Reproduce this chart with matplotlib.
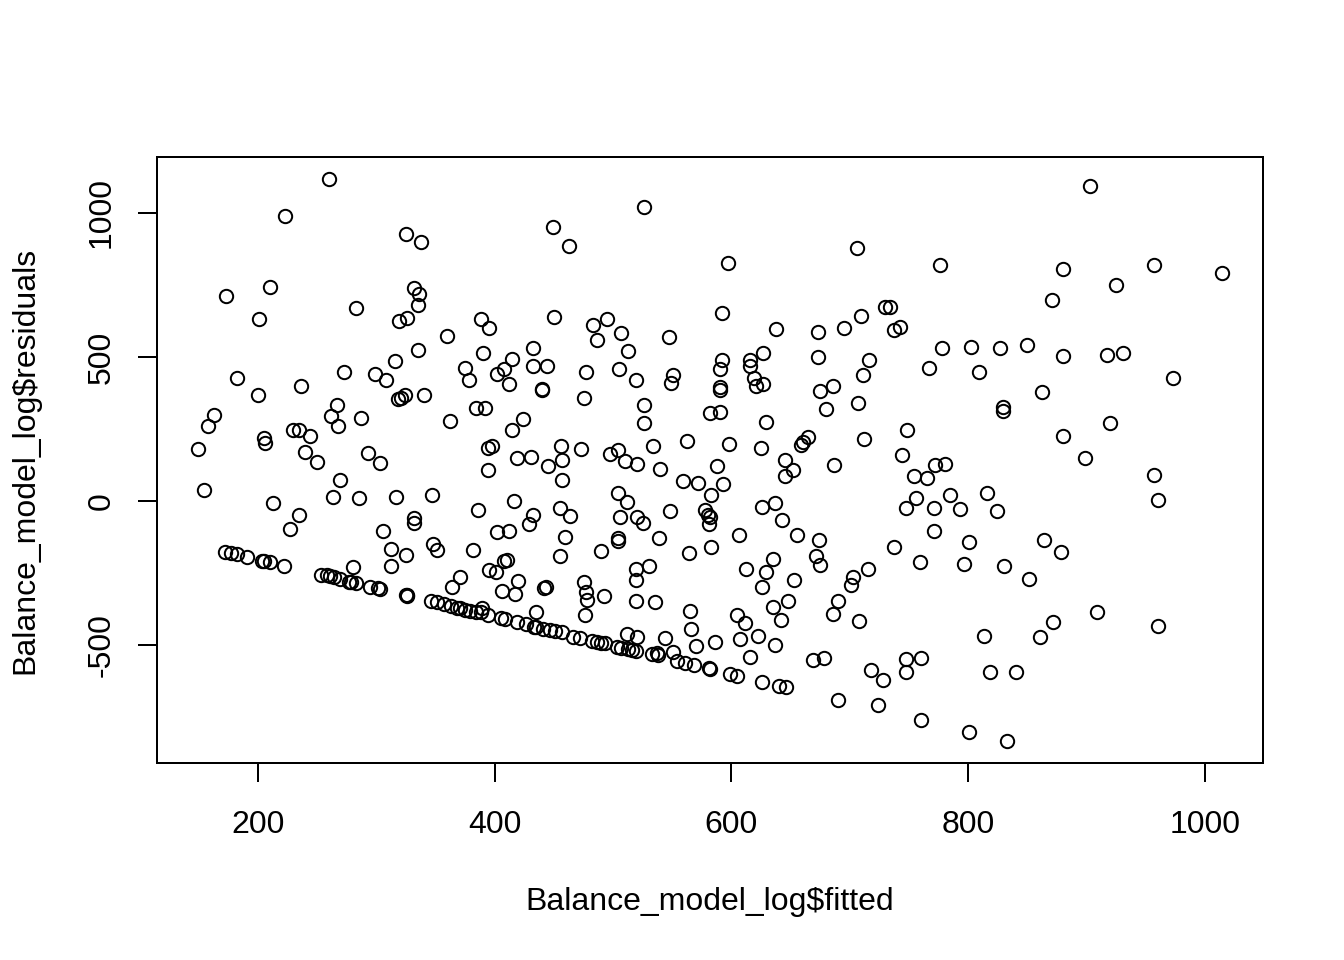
# plot.py
import matplotlib
matplotlib.use("Agg")
import matplotlib.pyplot as plt

# values
fitted = [
    260, 223, 325, 338, 210, 173, 201, 283, 332, 336, 335, 326, 319, 388, 395, 360,
    432, 432, 440, 440, 390, 415, 408, 402, 412, 375, 378, 335, 316, 299, 308, 273,
    182, 200, 236, 318, 321, 324, 340, 267, 262, 268, 287, 163, 158, 205, 206, 230,
    235, 244, 149, 240, 293, 250, 303, 362, 384, 392, 424, 415, 394, 398, 419, 431,
    394, 154, 213, 235, 227, 269, 263, 285, 317, 347, 416, 386, 332, 332, 306, 402,
    412, 429, 432, 312, 325, 312, 348, 351, 382, 408, 410, 395, 401, 280, 371, 364,
    420, 406, 417,
    172, 177, 182, 191, 203, 205, 210, 222, 253, 258, 261, 264, 269, 277, 279, 283,
    295, 301, 303, 325, 326, 326, 346, 351, 357, 363, 368, 371, 375, 379, 384, 388,
    389, 394, 405, 409, 419, 426, 433, 435,
    445, 457, 457, 455, 464, 459, 455, 504, 512, 506, 520, 525, 504, 504, 490, 539,
    548, 510, 520, 540, 559, 572, 588, 593, 583, 578, 580, 582, 581, 583, 564, 606,
    626, 637, 643, 645, 652, 645, 687, 655, 674, 671, 675, 737, 747, 635, 629, 626,
    612, 653, 519, 519, 530, 475, 477, 478, 476, 492, 519, 535, 442, 443, 565, 566,
    570, 586, 544, 512, 520, 605, 611, 635, 648, 642, 622, 607, 637, 616, 715, 703,
    701, 690, 686, 708, 669, 678, 718, 728, 747, 747, 690, 724, 626, 640, 646, 599,
    605, 582, 581, 568, 561, 554, 551, 538, 533, 537,
    435, 441, 447, 451, 457, 466, 472, 482, 486, 490, 493, 503, 507, 513, 516, 519,
    526, 449, 463, 706, 597, 450, 483, 495, 486, 507, 547, 592, 638, 673, 695, 709,
    730, 734, 737, 742, 444, 477, 513, 505, 519, 475, 551, 549, 592, 590, 590, 590,
    616, 616, 619, 621, 627, 627, 673, 716, 711, 686, 675, 680, 707, 526, 526, 582,
    590, 629, 562, 598, 625, 534, 456, 473, 497, 504, 665, 660, 659, 712, 748, 744,
    903, 776, 880, 957, 1014, 925, 871, 778, 802, 827, 850, 880, 917, 931, 767, 809,
    862, 829, 829, 973, 880, 920, 899, 772, 780, 957, 960, 754, 765, 756, 771, 785,
    793, 816, 824, 771, 801, 864, 878, 759, 796, 830, 851, 909, 872, 861, 813, 960,
    760, 818, 840, 760, 801, 833,
]

residuals = [
    1118, 990, 927, 899, 744, 713, 632, 670, 741, 718, 681, 635, 626, 632, 601, 573,
    531, 469, 385, 388, 514, 493, 458, 442, 406, 463, 421, 524, 487, 441, 421, 448,
    427, 368, 400, 354, 357, 367, 368, 333, 296, 261, 288, 299, 261, 220, 201, 248,
    248, 227, 181, 171, 168, 135, 132, 278, 324, 324, 285, 248, 185, 192, 149, 153,
    108, 38, -7, -49, -96, 73, 14, 10, 14, 21, 0, -30, -60, -77, -104, -108,
    -105, -81, -49, -166, -189, -225, -150, -170, -170, -208, -205, -240, -246, -228, -263, -298,
    -277, -311, -323,
    -176, -180, -183, -193, -207, -208, -211, -226, -257, -257, -259, -264, -271, -280, -282, -285,
    -299, -303, -306, -326, -328, -331, -347, -352, -359, -364, -371, -373, -378, -382, -384, -386,
    -371, -396, -407, -410, -419, -427, -436, -384,
    122, 142, 74, -25, -51, -124, -190, 29, -2, -55, -55, -76, -130, -138, -174, -127,
    -34, 139, 130, 112, 71, 63, 122, 59, 21, -31, -49, -55, -80, -159, -180, -118,
    -21, -7, -66, 142, 108, 87, 125, -118, -135, -190, -222, -159, -24, -201, -248, -298,
    -236, -274, -237, -274, -225, -282, -315, -344, -396, -330, -347, -350, -301, -299, -381, -446,
    -503, -489, -475, -462, -471, -396, -423, -368, -346, -412, -469, -480, -500, -541, -235, -263,
    -292, -346, -391, -416, -551, -544, -587, -622, -549, -593, -691, -708, -627, -642, -647, -601,
    -607, -584, -581, -569, -564, -556, -523, -535, -532, -529,
    -439, -444, -448, -451, -456, -471, -475, -486, -489, -492, -494, -506, -509, -514, -517, -521,
    1021, 951, 885, 880, 826, 639, 612, 632, 560, 583, 569, 654, 597, 588, 601, 643,
    674, 674, 593, 604, 470, 448, 522, 459, 421, 359, 439, 411, 489, 457, 396, 384,
    489, 468, 428, 398, 405, 514, 500, 491, 439, 399, 382, 321, 341, 334, 272, 306,
    309, 274, 208, 199, 185, 192, 192, 181, 164, 176, 222, 205, 194, 215, 246, 161,
    1094, 820, 806, 820, 792, 751, 697, 532, 535, 532, 543, 502, 507, 514, 463, 449,
    378, 326, 313, 428, 227, 272, 149, 125, 130, 90, 4, 88, 81, 12, -23, 21,
    -28, 29, -35, -104, -142, -135, -176, -212, -219, -225, -271, -384, -419, -471, -468, -434,
    -544, -594, -594, -760, -801, -832,
]

x_ticks = [200, 400, 600, 800, 1000]
y_ticks = [-500, 0, 500, 1000]

plt.rcParams["font.family"] = ["Liberation Sans", "DejaVu Sans"]

fig = plt.figure(figsize=(7, 5), dpi=192)
ax = fig.add_axes([157 / 1344, 1 - 763 / 960, (1263 - 157) / 1344, (763 - 157) / 960])

ax.plot(fitted, residuals, linestyle="none", marker="o", markersize=5.0,
        markerfacecolor="none", markeredgecolor="black", markeredgewidth=0.75)

ax.set_xlim(114.7, 1049)
ax.set_ylim(-909.7, 1194.4)
ax.set_xticks(x_ticks)
ax.set_yticks(y_ticks)
ax.set_yticklabels([str(v) for v in y_ticks], rotation=90, va="center")

for s in ax.spines.values():
    s.set_linewidth(0.75)
ax.tick_params(direction="out", length=7.2, width=0.75, labelsize=12)
ax.tick_params(axis="x", pad=10.5)
ax.tick_params(axis="y", pad=8)

ax.set_xlabel("Balance_model_log$fitted", fontsize=12)
ax.set_ylabel("Balance_model_log$residuals", fontsize=12)
ax.xaxis.set_label_coords(0.5, -(902 - 763) / 606)
ax.xaxis.label.set_va("center")
ax.yaxis.set_label_coords(-(157 - 25) / 1106, 0.5)
ax.yaxis.label.set_va("center")

fig.savefig("out.png", dpi=192)
